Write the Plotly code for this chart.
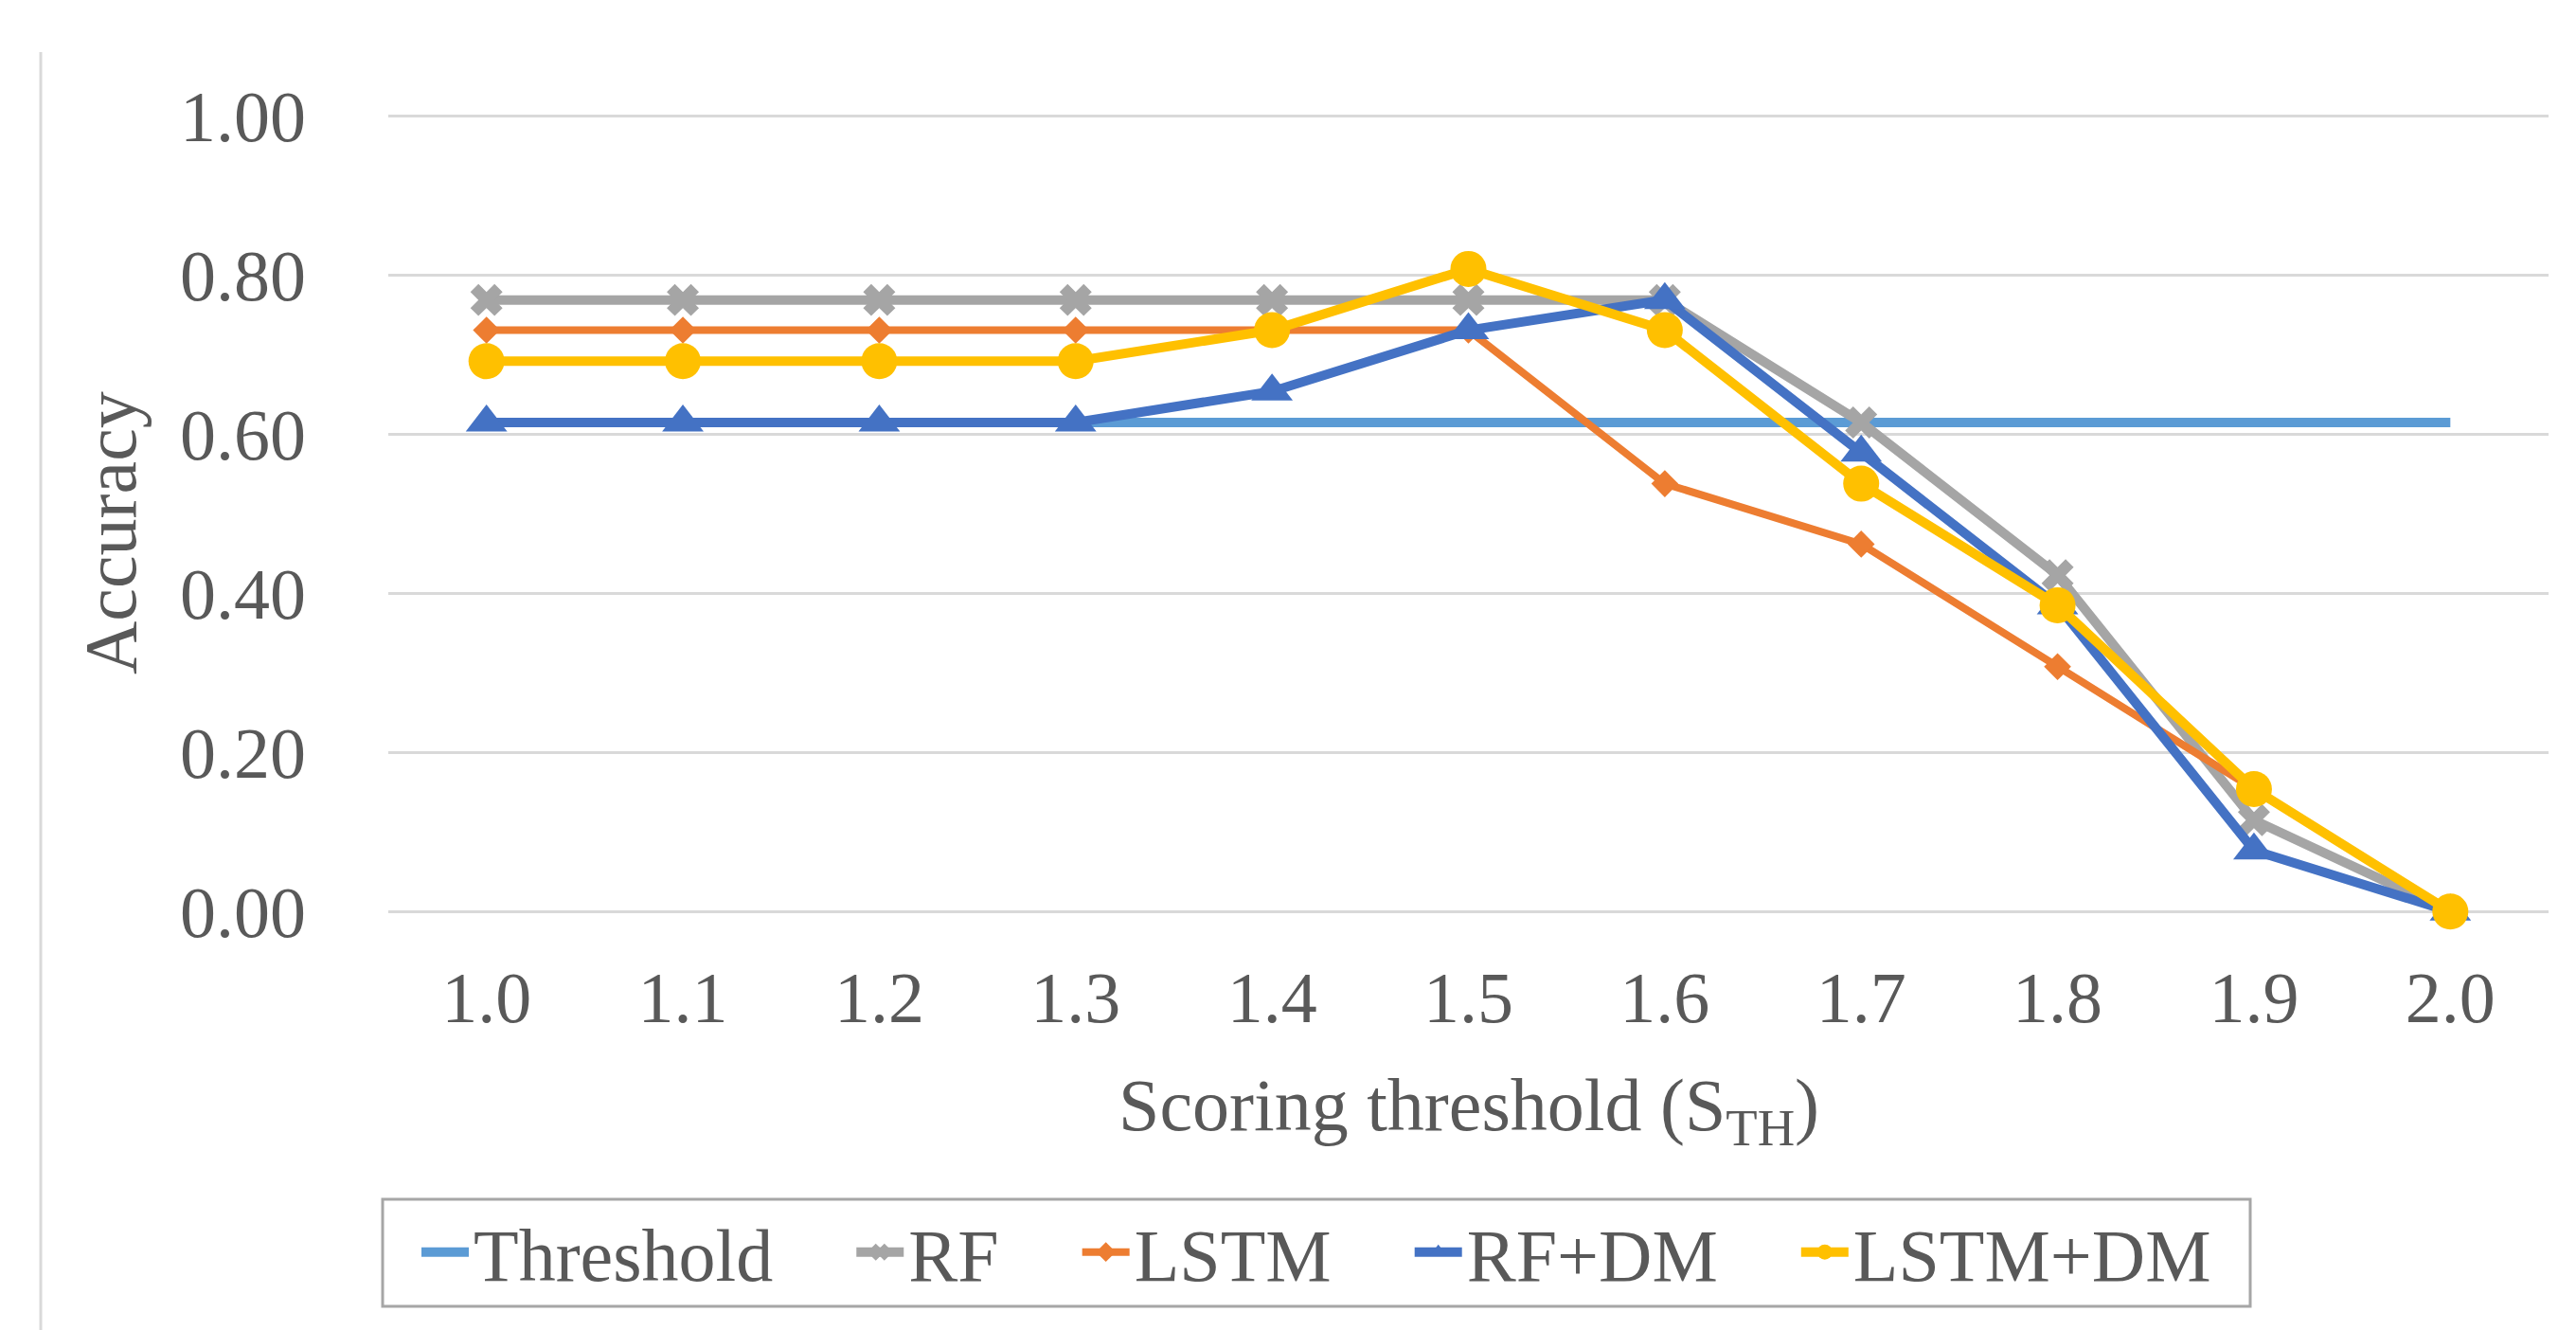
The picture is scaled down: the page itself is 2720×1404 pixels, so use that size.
import plotly.graph_objects as go

categories = ["1.0", "1.1", "1.2", "1.3", "1.4", "1.5", "1.6", "1.7", "1.8", "1.9", "2.0"]
threshold = [0.615] * 11
rf = [0.769, 0.769, 0.769, 0.769, 0.769, 0.769, 0.769, 0.615, 0.423, 0.115, 0.0]
lstm = [0.731, 0.731, 0.731, 0.731, 0.731, 0.731, 0.538, 0.462, 0.308, 0.154, 0.0]
rf_dm = [0.615, 0.615, 0.615, 0.615, 0.654, 0.731, 0.769, 0.577, 0.385, 0.077, 0.0]
lstm_dm = [0.692, 0.692, 0.692, 0.692, 0.731, 0.808, 0.731, 0.538, 0.385, 0.154, 0.0]
y_ticks = [0.0, 0.2, 0.4, 0.6, 0.8, 1.0]
y_tick_labels = ["0.00", "0.20", "0.40", "0.60", "0.80", "1.00"]

FONT = "Liberation Serif"
TXT = "#595959"
W, H = 2720, 1404
L, R, T, B = 402, 37, 113, 448
pw, ph = W - L - R, H - T - B
SP = "\u00a0" * 4

fig = go.Figure()
fig.add_trace(go.Scatter(x=categories, y=threshold, name="Threshold" + SP, mode="lines",
                         line=dict(color="#5B9BD5", width=10)))
fig.add_trace(go.Scatter(x=categories, y=rf, name="RF" + SP, mode="lines+markers",
                         line=dict(color="#A5A5A5", width=10),
                         marker=dict(symbol="x", size=30, color="#A5A5A5")))
fig.add_trace(go.Scatter(x=categories, y=lstm, name="LSTM" + SP, mode="lines+markers",
                         line=dict(color="#ED7D31", width=8),
                         marker=dict(symbol="diamond", size=22, color="#ED7D31")))
fig.add_trace(go.Scatter(x=categories, y=rf_dm, name="RF+DM" + SP, mode="lines+markers",
                         line=dict(color="#4472C4", width=10),
                         marker=dict(symbol="triangle-up", size=38, color="#4472C4")))
fig.add_trace(go.Scatter(x=categories, y=lstm_dm, name="LSTM+DM", mode="lines+markers",
                         line=dict(color="#FFC000", width=10),
                         marker=dict(symbol="circle", size=38, color="#FFC000")))

for tr in fig.data:
    tr.cliponaxis = False

def px_x(px):
    return (px - L) / pw

def px_y(py):
    return (H - B - py) / ph

fig.update_layout(
    width=W, height=H,
    margin=dict(l=L, r=R, t=T, b=B),
    paper_bgcolor="white", plot_bgcolor="white",
    font=dict(family=FONT, size=76, color=TXT),
    showlegend=True,
    legend=dict(orientation="h", x=px_x(1382), xanchor="center", y=px_y(1314), yanchor="middle",
                borderwidth=0, font=dict(size=78, color=TXT),
                itemwidth=50, tracegroupgap=0, bgcolor="rgba(0,0,0,0)"),
    xaxis=dict(type="category", range=[-0.5, 10.5], showgrid=False, showline=False, zeroline=False,
               tickfont=dict(size=76, color=TXT), ticks="", ticklabelstandoff=38),
    yaxis=dict(range=[-0.002, 1.002], tickvals=y_ticks, ticktext=y_tick_labels,
               showgrid=True, gridcolor="#D9D9D9", gridwidth=3, zeroline=False,
               showline=False, ticks="", tickfont=dict(size=76, color=TXT),
               ticklabelstandoff=86),
    annotations=[
        dict(text="Scoring threshold (S<sub>TH</sub>)", xref="paper", yref="paper",
             x=0.5, y=px_y(1164), xanchor="center", yanchor="middle", showarrow=False,
             font=dict(size=78, color=TXT)),
        dict(text="Accuracy", xref="paper", yref="paper", textangle=-90,
             x=px_x(108), y=px_y(555), xanchor="center", yanchor="middle", showarrow=False,
             font=dict(size=78, color=TXT)),
    ],
    shapes=[
        dict(type="line", xref="paper", yref="paper", x0=px_x(35), x1=px_x(35),
             y0=px_y(47), y1=px_y(1404), line=dict(color="#D9D9D9", width=3)),
        dict(type="rect", xref="paper", yref="paper", x0=px_x(396), x1=px_x(2368),
             y0=px_y(1258), y1=px_y(1371), line=dict(color="#A6A6A6", width=3)),
    ],
)

fig.write_html("out.html")
